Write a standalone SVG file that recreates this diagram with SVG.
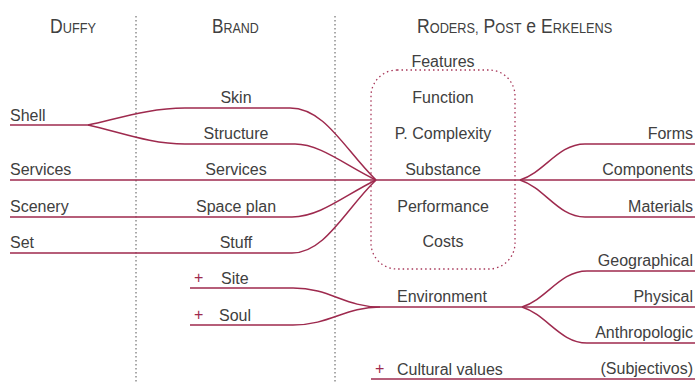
<svg xmlns="http://www.w3.org/2000/svg" width="696" height="382" viewBox="0 0 696 382">
  <style>
    text { font-family: "Liberation Sans", Arial, sans-serif; fill: #404040; }
    .t { font-size: 16px; }
    .c { text-anchor: middle; }
    .r { text-anchor: end; }
    .hd { font-size: 20px; }
    .sc { font-size: 14.5px; }
    .plus { font-size: 16px; fill: #9e2a4e; }
    .ln { fill: none; stroke: #9e2a4e; stroke-width: 1.5; }
    .sep { fill: none; stroke: #555; stroke-width: 1; stroke-dasharray: 1.5 2.5; }
    .grp { fill: none; stroke: #a8385a; stroke-width: 1.3; stroke-dasharray: 1.5 3; }
  </style>

  <!-- column separators -->
  <g id="separators">
    <line class="sep" x1="136" y1="16" x2="136" y2="382"/>
    <line class="sep" x1="335" y1="16" x2="335" y2="382"/>
  </g>

  <!-- column headings (small caps, slightly condensed) -->
  <g id="headings">
    <g transform="translate(50,33) scale(0.88,1)">
      <text class="hd" x="0" y="0">D<tspan class="sc">UFFY</tspan></text>
    </g>
    <g transform="translate(212,33) scale(0.86,1)">
      <text class="hd" x="0" y="0">B<tspan class="sc">RAND</tspan></text>
    </g>
    <g transform="translate(417,33) scale(0.88,1)">
      <text class="hd" x="0" y="0">R<tspan class="sc">ODERS,</tspan> P<tspan class="sc">OST</tspan> e E<tspan class="sc">RKELENS</tspan></text>
    </g>
  </g>

  <!-- connectors -->
  <g id="connectors">
    <!-- Shell splits into Skin and Structure -->
    <path class="ln" d="M10,125 H88"/>
    <path class="ln" d="M88,125 C120,118 150,108 185,108 H290 C325,108 345,150 376,180"/>
    <path class="ln" d="M88,125 C120,132 150,144 185,144 H295 C320,144 345,165 376,180"/>
    <!-- Services runs across -->
    <path class="ln" d="M10,180 H695"/>
    <!-- Scenery / Space plan -->
    <path class="ln" d="M10,217 H292 C320,217 345,195 376,180"/>
    <!-- Set / Stuff -->
    <path class="ln" d="M10,253 H292 C325,253 345,210 376,180"/>
    <!-- Substance fans out -->
    <path class="ln" d="M520,180 C545,172 558,144 585,144 H695"/>
    <path class="ln" d="M520,180 C545,188 558,217 585,217 H695"/>
    <!-- Site and Soul join Environment -->
    <path class="ln" d="M190,288 H293 C330,288 345,307 380,307"/>
    <path class="ln" d="M190,325 H293 C330,325 345,307 380,307"/>
    <path class="ln" d="M380,307 H695"/>
    <!-- Environment fans out -->
    <path class="ln" d="M522,307 C547,299 560,271 587,271 H695"/>
    <path class="ln" d="M522,307 C547,315 560,343 587,343 H695"/>
    <!-- Cultural values -->
    <path class="ln" d="M371,379 H695"/>
  </g>

  <!-- Duffy -->
  <g id="duffy">
    <text class="t" x="10" y="121">Shell</text>
    <text class="t" x="10" y="175">Services</text>
    <text class="t" x="10" y="212">Scenery</text>
    <text class="t" x="10" y="248">Set</text>
  </g>

  <!-- Brand -->
  <g id="brand">
    <text class="t c" x="236" y="103">Skin</text>
    <text class="t c" x="236" y="139">Structure</text>
    <text class="t c" x="236" y="175">Services</text>
    <text class="t c" x="236" y="212">Space plan</text>
    <text class="t c" x="236" y="248">Stuff</text>
    <text class="plus" x="194" y="283">+</text>
    <text class="t" x="221" y="284">Site</text>
    <text class="plus" x="194" y="320">+</text>
    <text class="t" x="219" y="321">Soul</text>
  </g>

  <!-- Roders, Post e Erkelens: features -->
  <g id="features">
    <rect class="grp" x="371" y="70" width="144" height="199" rx="26" ry="26"/>
    <text class="t c" x="443" y="67">Features</text>
    <text class="t c" x="443" y="103">Function</text>
    <text class="t c" x="443" y="139">P. Complexity</text>
    <text class="t c" x="443" y="175">Substance</text>
    <text class="t c" x="443" y="212">Performance</text>
    <text class="t c" x="443" y="247">Costs</text>
  </g>

  <g id="substance">
    <text class="t r" x="693" y="139">Forms</text>
    <text class="t r" x="693" y="175">Components</text>
    <text class="t r" x="693" y="212">Materials</text>
  </g>

  <g id="environment">
    <text class="t" x="397" y="302">Environment</text>
    <text class="t r" x="693" y="266">Geographical</text>
    <text class="t r" x="693" y="302">Physical</text>
    <text class="t r" x="693" y="338">Anthropologic</text>
  </g>

  <g id="cultural">
    <text class="plus" x="375" y="374">+</text>
    <text class="t" x="397" y="375">Cultural values</text>
    <text class="t r" x="693" y="374">(Subjectivos)</text>
  </g>
</svg>
